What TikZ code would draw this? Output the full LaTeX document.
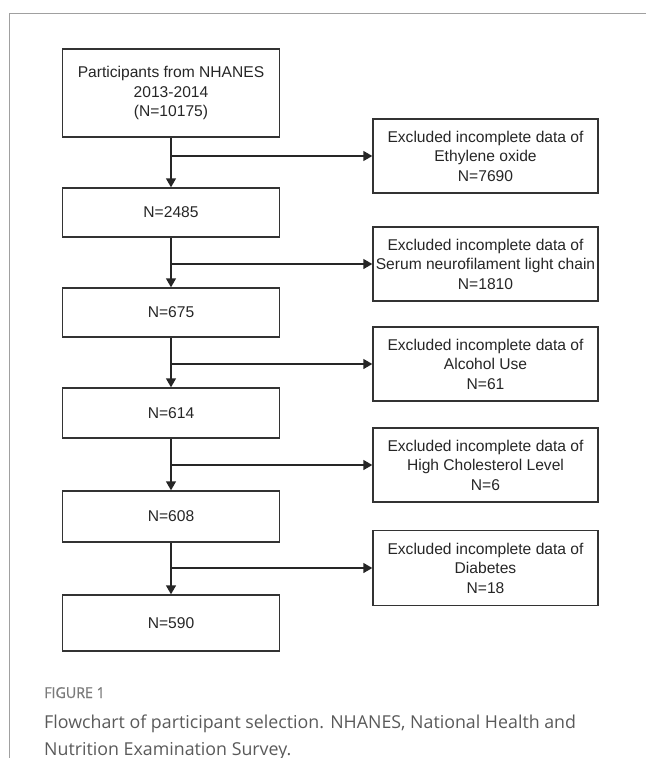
\documentclass[tikz,border=0pt]{standalone}
\usepackage{fontspec}
\setmainfont{Liberation Sans}
\newfontfamily\capfont{Open Sans}
\newfontfamily\figfont[FakeStretch=0.95,FakeBold=0.8]{Open Sans}
\usetikzlibrary{arrows.meta}
\definecolor{framegray}{HTML}{A0A0A0}
\definecolor{capgray}{HTML}{5A5A5A}
\definecolor{figgray}{HTML}{7A7A7A}
\begin{document}
\begin{tikzpicture}[x=1pt,y=-1pt,
  box/.style={draw=black!80, line width=1.4pt, inner sep=0pt, align=center,
    font=\fontsize{15.6}{19.5}\selectfont, text=black!85},
  lbox/.style={box, minimum width=217pt},
  rbox/.style={box, minimum width=225pt, minimum height=74pt},
  conn/.style={draw=black!85, line width=1.4pt},
  arr/.style={conn, -{Triangle[width=10pt,length=9pt]}}]
\useasboundingbox (0,0) rectangle (646,758);
\draw[framegray, line width=1pt] (646,13) -- (9,13) -- (9,758);

\node[lbox, minimum height=88pt] (b1) at (171,93) {Participants from NHANES\\2013-2014\\(N=10175)};
\node[lbox, minimum height=49pt] (b2) at (171,212.5) {N=2485};
\node[lbox, minimum height=49pt] (b3) at (171,312.5) {N=675};
\node[lbox, minimum height=50pt] (b4) at (171,413) {N=614};
\node[lbox, minimum height=51pt] (b5) at (171,516.5) {N=608};
\node[lbox, minimum height=56pt] (b6) at (171,623) {N=590};

\node[rbox] (r1) at (485.5,156) {Excluded incomplete data of\\Ethylene oxide\\N=7690};
\node[rbox] (r2) at (485.5,264) {Excluded incomplete data of\\Serum neurofilament light chain\\N=1810};
\node[rbox] (r3) at (485.5,364) {Excluded incomplete data of\\Alcohol Use\\N=61};
\node[rbox] (r4) at (485.5,465) {Excluded incomplete data of\\High Cholesterol Level\\N=6};
\node[rbox, minimum height=75pt] (r5) at (485.5,568) {Excluded incomplete data of\\Diabetes\\N=18};

\draw[arr] (b1) -- (b2);
\draw[arr] (b2) -- (b3);
\draw[arr] (b3) -- (b4);
\draw[arr] (b4) -- (b5);
\draw[arr] (b5) -- (b6);
\draw[arr] (b1.south |- r1.west) -- (r1.west);
\draw[arr] (b2.south |- r2.west) -- (r2.west);
\draw[arr] (b3.south |- r3.west) -- (r3.west);
\draw[arr] (b4.south |- r4.west) -- (r4.west);
\draw[arr] (b5.south |- r5.west) -- (r5.west);

\node[anchor=base west, inner sep=0pt, text=figgray, font=\figfont\fontsize{15}{18}\selectfont] (fig) at (44,698) {FIGURE 1};
\node[anchor=base west, inner sep=0pt, align=left, text=capgray, font=\capfont\fontsize{17.8}{27}\selectfont] (cap) at (44,755) {Flowchart of participant selection. NHANES, National Health and\\Nutrition Examination Survey.};
\end{tikzpicture}
\end{document}
